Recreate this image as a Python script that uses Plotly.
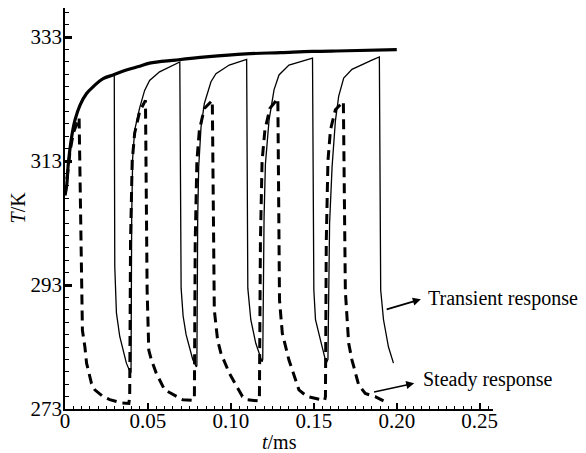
import plotly.graph_objects as go

# ---- data ----
env_t = [0, 0.001, 0.002, 0.004, 0.006, 0.009, 0.013, 0.017, 0.023, 0.029, 0.037,
         0.045, 0.051, 0.067, 0.085, 0.109, 0.13, 0.149, 0.17, 0.2]
env_T = [307.5, 309.0, 312.6, 316.9, 319.6, 322.0, 323.9, 325.0, 326.3, 326.9, 327.7,
         328.3, 328.8, 329.3, 329.8, 330.3, 330.5, 330.7, 330.8, 331.0]

transient_t = [
    0, 0.001, 0.002, 0.004, 0.006, 0.009, 0.013, 0.017, 0.023, 0.0297,
    0.0300, 0.0310, 0.033, 0.035, 0.037, 0.0395,
    0.0398, 0.0402, 0.0408, 0.042, 0.045, 0.048, 0.051, 0.057, 0.063, 0.068, 0.0692,
    0.0700, 0.0712, 0.073, 0.075, 0.077, 0.0792,
    0.0795, 0.0800, 0.0806, 0.082, 0.084, 0.088, 0.091, 0.099, 0.108, 0.1095,
    0.1102, 0.112, 0.115, 0.118, 0.1188,
    0.1192, 0.1200, 0.1208, 0.122, 0.123, 0.126, 0.129, 0.135, 0.145, 0.1492,
    0.150, 0.151, 0.154, 0.157, 0.1578,
    0.1585, 0.1595, 0.161, 0.163, 0.165, 0.168, 0.173, 0.185, 0.1895,
    0.1903, 0.192, 0.195, 0.198,
]
transient_T = [
    307.5, 309.0, 312.6, 316.9, 319.6, 322.0, 323.9, 325.0, 326.3, 327.0,
    296.0, 288.5, 284.7, 282.5, 280.4, 278.8,
    279.0, 304.0, 313.5, 318.0, 321.6, 324.4, 326.0, 327.4, 328.2, 328.8, 329.0,
    292.5, 288.0, 285.0, 282.8, 281.0, 279.8,
    280.0, 304.0, 312.1, 318.5, 322.3, 325.8, 327.1, 328.5, 329.3, 329.4,
    292.5, 287.4, 283.6, 280.9, 280.6,
    281.0, 304.0, 312.5, 316.4, 319.6, 324.5, 326.9, 328.5, 329.3, 329.6,
    292.2, 287.4, 284.1, 280.9, 280.6,
    281.0, 303.0, 312.1, 319.5, 323.5, 326.4, 327.8, 329.3, 329.8,
    292.2, 287.4, 283.0, 280.4,
]

steady_t = [
    0, 0.001, 0.002, 0.003, 0.005, 0.0085,
    0.0095, 0.0100, 0.0105, 0.012, 0.013, 0.016, 0.018, 0.023, 0.027, 0.034, 0.0385,
    0.0390, 0.0395, 0.0405, 0.042, 0.045, 0.0485,
    0.0495, 0.0505, 0.052, 0.055, 0.060, 0.067, 0.071, 0.0775,
    0.0780, 0.0785, 0.0795, 0.081, 0.084, 0.0888,
    0.0898, 0.090, 0.092, 0.094, 0.099, 0.107, 0.110, 0.1168,
    0.1172, 0.1178, 0.1188, 0.1205, 0.1235, 0.1283,
    0.1293, 0.131, 0.135, 0.141, 0.146, 0.154, 0.1565,
    0.1570, 0.1575, 0.1585, 0.160, 0.163, 0.1678,
    0.1690, 0.170, 0.171, 0.173, 0.177, 0.181, 0.187, 0.192,
]
steady_T = [
    307.5, 309.5, 312.0, 314.5, 317.5, 320.0,
    303.0, 290.6, 285.7, 283.0, 280.4, 277.1, 276.1, 275.0, 274.5, 274.0, 273.9,
    275.0, 300.0, 313.0, 317.5, 321.0, 322.8,
    292.2, 282.5, 281.0, 278.8, 276.1, 275.0, 274.5, 274.4,
    275.0, 300.0, 313.0, 318.0, 321.5, 322.8,
    291.5, 289.0, 284.1, 282.0, 278.8, 275.0, 274.5, 274.3,
    275.0, 300.0, 313.0, 318.0, 321.5, 323.1,
    290.6, 285.2, 280.9, 276.1, 275.0, 274.5, 274.4,
    275.0, 300.0, 313.0, 318.0, 321.3, 322.6,
    292.0, 287.8, 283.6, 280.9, 276.9, 275.5, 275.0, 274.3,
]

x_tickvals = [0, 0.05, 0.10, 0.15, 0.20, 0.25]
x_ticktext = ["0", "0.05", "0.10", "0.15", "0.20", "0.25"]
y_tickvals = [273, 293, 313, 333]
y_ticktext = ["273", "293", "313", "333"]

FONT = "Liberation Serif, Times New Roman, serif"

fig = go.Figure()
fig.add_trace(go.Scatter(x=steady_t, y=steady_T, mode="lines",
                         line=dict(color="black", width=3, dash="10px,6px"),
                         showlegend=False, hoverinfo="skip"))
fig.add_trace(go.Scatter(x=transient_t, y=transient_T, mode="lines",
                         line=dict(color="black", width=1.3),
                         showlegend=False, hoverinfo="skip"))
fig.add_trace(go.Scatter(x=env_t, y=env_T, mode="lines",
                         line=dict(color="black", width=3.2, shape="spline"),
                         showlegend=False, hoverinfo="skip"))

fig.update_xaxes(range=[0, 0.258], tickvals=x_tickvals, ticktext=x_ticktext,
                 ticks="inside", ticklen=6, tickwidth=2, tickcolor="black",
                 minor=dict(dtick=0.005, tick0=0, ticks="inside", ticklen=3,
                            tickwidth=1, tickcolor="black"),
                 showline=True, linecolor="black", linewidth=1.5,
                 showgrid=False, zeroline=False, ticklabelstandoff=-8,
                 tickfont=dict(family=FONT, size=21, color="black"))
fig.update_yaxes(range=[273, 337.7], tickvals=y_tickvals, ticktext=y_ticktext,
                 ticks="inside", ticklen=7, tickwidth=2.5, tickcolor="black",
                 minor=dict(dtick=2, tick0=273, ticks="inside", ticklen=4,
                            tickwidth=1, tickcolor="black"),
                 showline=True, linecolor="black", linewidth=1.5,
                 showgrid=False, zeroline=False, ticklabelstandoff=-3,
                 tickfont=dict(family=FONT, size=21, color="black"))

annotations = [
    dict(text="<i>T</i>/K", xref="paper", yref="paper", x=-0.111, y=0.504,
         xanchor="center", yanchor="middle",
         textangle=-90, showarrow=False, font=dict(family=FONT, size=20, color="black")),
    dict(text="<i>t</i>/ms", xref="paper", yref="paper", x=0.5, y=-0.0815,
         xanchor="center", yanchor="middle",
         showarrow=False, font=dict(family=FONT, size=20, color="black")),
    # arrows
    dict(text="", x=0.2145, y=290.7, ax=0.193, ay=289.0, xref="x", yref="y",
         axref="x", ayref="y", showarrow=True, arrowhead=2, arrowsize=1,
         arrowwidth=1.6, arrowcolor="black", standoff=0),
    dict(text="", x=0.2105, y=277.15, ax=0.1854, ay=275.7, xref="x", yref="y",
         axref="x", ayref="y", showarrow=True, arrowhead=2, arrowsize=1,
         arrowwidth=1.6, arrowcolor="black", standoff=0),
    dict(text="Transient response", x=0.2175, y=290.9, xref="x", yref="y",
         xanchor="left", yanchor="middle", showarrow=False,
         font=dict(family=FONT, size=20, color="black")),
    dict(text="Steady response", x=0.2145, y=277.7, xref="x", yref="y",
         xanchor="left", yanchor="middle", showarrow=False,
         font=dict(family=FONT, size=20, color="black")),
]

# the page body adds an 8px offset, so the figure is 8px smaller and shifted
fig.update_layout(width=578, height=445,
                  margin=dict(l=57, r=93, t=0, b=44),
                  paper_bgcolor="white", plot_bgcolor="white",
                  annotations=annotations,
                  font=dict(family=FONT, color="black"))

fig.write_html("out.html")
